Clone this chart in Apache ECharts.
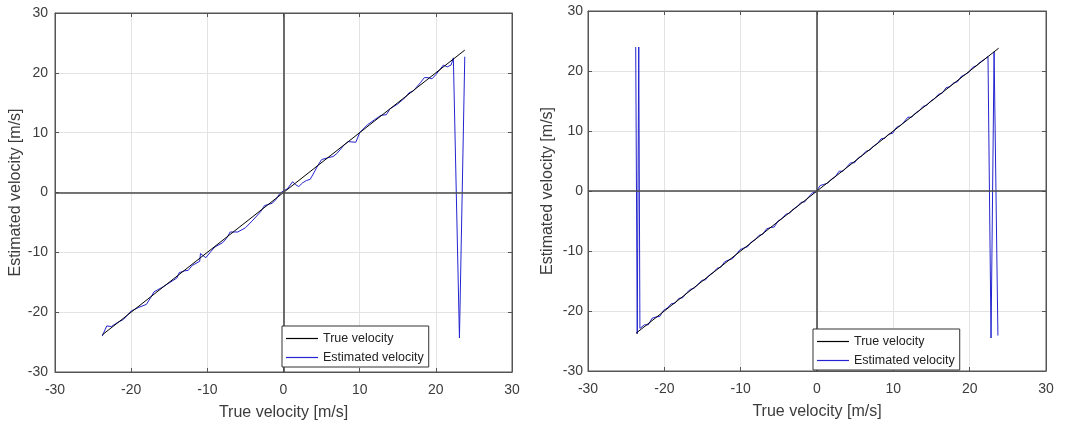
<!DOCTYPE html>
<html>
<head>
<meta charset="utf-8">
<script src="https://cdn.jsdelivr.net/npm/echarts@6/dist/echarts.min.js"></script>
<style>
html,body{margin:0;padding:0;background:#fff;}
#chart{width:1077px;height:423px;}
</style>
</head>
<body>
<div id="chart"></div>
<script>
// ---- data ----
const axisMin = -30, axisMax = 30, tickStep = 10;
const zeroLine = 0;

const trueLX = [-23.8, 23.8];
const trueLY = [-23.8, 23.8];
const estLX = [-23.8,-23.2,-22.6,-22,-21,-20,-19,-18,-17.4,-17,-16,-15,-14,-13.7,-13,-12.5,-12,-11,-10.9,-10.2,-9.5,-9,-8,-7.5,-7,-6,-5,-4,-3,-2.5,-1.5,-1,-0.5,0,0.5,1.2,1.6,2,2.5,3,3.5,4,4.5,5,5.8,6.5,7,8,8.5,9.5,10,11,12,12.8,13.5,14,15,16,16.5,17,18,18.5,19,19.5,20,21,21.5,22,22.3,23.1,23.8];
const estLY = [-24.0,-22.3,-22.4,-21.9,-21.2,-19.8,-19.2,-18.7,-17.5,-16.6,-15.9,-15.1,-14.3,-13.4,-13.1,-13.0,-12.2,-11.5,-10.2,-10.9,-9.8,-9.1,-8.4,-7.7,-6.6,-6.6,-5.9,-4.6,-3.2,-2.2,-1.8,-1.2,-0.2,0.3,0.6,1.8,1.3,1.0,1.6,2.0,2.2,3.3,4.5,5.5,5.8,6.0,6.5,8.0,8.5,8.4,10.0,11.3,12.2,12.9,13.0,14.0,14.8,15.9,16.7,16.9,18.4,19.2,19.2,19.0,19.7,21.3,21.0,21.3,22.5,-24.3,22.7];

const trueRX = [-23.7, 23.8];
const trueRY = [-23.7, 23.8];
const estRX = [-23.75,-23.55,-23.35,-23.2,
  -22.6,-22.1,-21.6,-21.1,-20.6,-20.1,-19.6,-19.1,-18.6,-18.1,-17.6,-17.1,-16.6,-16.1,-15.6,-15.1,-14.6,-14.1,-13.6,-13.1,-12.6,-12.1,-11.6,-11.1,-10.6,-10.1,-9.6,-9.1,-8.6,-8.1,-7.6,-7.1,-6.6,-6.1,-5.6,-5.1,-4.6,-4.1,-3.6,-3.1,-2.6,-2.1,-1.6,-1.1,-0.6,-0.1,0.4,0.9,1.4,1.9,2.4,2.9,3.4,3.9,4.4,4.9,5.4,5.9,6.4,6.9,7.4,7.9,8.4,8.9,9.4,9.9,10.4,10.9,11.4,11.9,12.4,12.9,13.4,13.9,14.4,14.9,15.4,15.9,16.4,16.9,17.4,17.9,18.4,18.9,19.4,19.9,20.4,20.9,21.4,21.9,
  22.4,22.8,23.2,23.45,23.7];
const estRY = [24.0,-23.8,24.0,-22.9,
  -22.3,-22.3,-21.2,-21.0,-20.9,-19.9,-19.5,-18.8,-18.7,-17.9,-17.8,-17.0,-16.4,-16.2,-15.6,-14.9,-14.8,-14.0,-13.6,-12.9,-12.7,-11.8,-11.5,-11.3,-10.6,-9.8,-9.5,-9.3,-8.5,-8.1,-7.4,-7.2,-6.3,-6.1,-6.0,-5.0,-4.6,-3.9,-3.7,-3.0,-2.6,-1.9,-1.8,-1.0,-0.3,-0.1,0.9,1.1,1.3,2.0,2.4,3.3,3.3,4.0,4.7,4.7,5.5,5.9,6.6,6.8,7.5,7.9,8.7,8.8,9.5,9.6,10.6,10.9,11.5,12.3,12.3,13.0,13.4,14.1,14.3,15.0,15.4,16.1,16.3,17.2,17.4,18.0,18.2,19.1,19.4,19.8,20.6,20.9,21.5,21.9,
  22.4,-24.5,23.2,23.5,-24.1];

const legendNames = ['True velocity', 'Estimated velocity'];
const xTitle = 'True velocity [m/s]';
const yTitle = 'Estimated velocity [m/s]';

// ---- chart ----
const FONT = 'Liberation Sans, Arial, sans-serif';
const TXT = '#3c3c3c';
const BOX = '#555555';
const zip = (xs, ys) => xs.map((x, i) => [x, ys[i]]);

const grids = [
  {left: 55, top: 13, width: 457, height: 359},
  {left: 588, top: 11, width: 458, height: 360}
];

const xAxes = [], yAxes = [];
grids.forEach((g, i) => {
  const common = {type: 'value', min: axisMin, max: axisMax, interval: tickStep, gridIndex: i};
  xAxes.push(Object.assign({}, common, {
    position: 'bottom',
    axisLine: {onZero: false, lineStyle: {color: BOX, width: 1}},
    axisTick: {inside: true, length: 4, lineStyle: {color: BOX}},
    axisLabel: {color: TXT, fontSize: 14, fontFamily: FONT, margin: 11, showMinLabel: true, showMaxLabel: true},
    splitLine: {show: true, lineStyle: {color: '#e3e3e3', width: 1}},
    name: xTitle, nameLocation: 'middle', nameGap: 33,
    nameTextStyle: {color: TXT, fontSize: 16, fontFamily: FONT}
  }));
  xAxes.push(Object.assign({}, common, {
    position: 'top',
    axisLine: {onZero: false, lineStyle: {color: BOX, width: 1}},
    axisTick: {inside: true, length: 4, lineStyle: {color: BOX}},
    axisLabel: {show: false},
    splitLine: {show: false}
  }));
  yAxes.push(Object.assign({}, common, {
    position: 'left',
    axisLine: {onZero: false, lineStyle: {color: BOX, width: 1}},
    axisTick: {inside: true, length: 4, lineStyle: {color: BOX}},
    axisLabel: {color: TXT, fontSize: 14, fontFamily: FONT, margin: i === 0 ? 7 : 5, showMinLabel: true, showMaxLabel: true},
    splitLine: {show: true, lineStyle: {color: '#e3e3e3', width: 1}},
    name: yTitle, nameLocation: 'middle', nameGap: i === 0 ? 28 : 32,
    nameTextStyle: {color: TXT, fontSize: 16, fontFamily: FONT}
  }));
  yAxes.push(Object.assign({}, common, {
    position: 'right',
    axisLine: {onZero: false, lineStyle: {color: BOX, width: 1}},
    axisTick: {inside: true, length: 4, lineStyle: {color: BOX}},
    axisLabel: {show: false},
    splitLine: {show: false}
  }));
});

const EST_COLOR = '#2424d0';

function zeroMark() {
  return {
    silent: true, symbol: 'none', animation: false,
    label: {show: false},
    lineStyle: {color: '#4a4a4a', width: 1.6, type: 'solid'},
    data: [{xAxis: zeroLine}, {yAxis: zeroLine}]
  };
}

const series = [];
[[estLX, estLY, trueLX, trueLY], [estRX, estRY, trueRX, trueRY]].forEach((d, i) => {
  series.push({
    name: legendNames[0], type: 'line', xAxisIndex: 2 * i, yAxisIndex: 2 * i,
    data: [], symbol: 'none', lineStyle: {color: '#000', width: 1}, itemStyle: {color: '#000'},
    markLine: zeroMark(), z: 1
  });
  series.push({
    name: legendNames[1], type: 'line', xAxisIndex: 2 * i, yAxisIndex: 2 * i,
    data: zip(d[0], d[1]), symbol: 'none', showSymbol: false,
    lineStyle: {color: EST_COLOR, width: 1}, itemStyle: {color: EST_COLOR}, z: 3
  });
  series.push({
    name: legendNames[0], type: 'line', xAxisIndex: 2 * i, yAxisIndex: 2 * i,
    data: zip(d[2], d[3]), symbol: 'none', showSymbol: false,
    lineStyle: {color: '#000', width: 1}, itemStyle: {color: '#000'}, z: 4
  });
});

const legendBase = {
  orient: 'vertical', selectedMode: false,
  data: legendNames.map(n => ({name: n, icon: 'rect'})),
  itemWidth: 32, itemHeight: 1.2, itemGap: 6,
  padding: [6, 5, 3, 4],
  borderColor: '#333', borderWidth: 1, backgroundColor: '#fff',
  textStyle: {color: '#222', fontSize: 12.5, fontFamily: FONT},
  z: 10
};

const option = {
  backgroundColor: '#fff',
  animation: false,
  grid: grids.map(g => Object.assign({show: true, borderColor: BOX, borderWidth: 1, backgroundColor: '#fff', containLabel: false, outerBoundsMode: 'none'}, g)),
  xAxis: xAxes,
  yAxis: yAxes,
  legend: [
    Object.assign({}, legendBase, {left: 282, top: 326}),
    Object.assign({}, legendBase, {left: 813, top: 329})
  ],
  series: series
};

const chart = echarts.init(document.getElementById('chart'), null, {renderer: 'canvas'});
chart.setOption(option);
</script>
</body>
</html>
